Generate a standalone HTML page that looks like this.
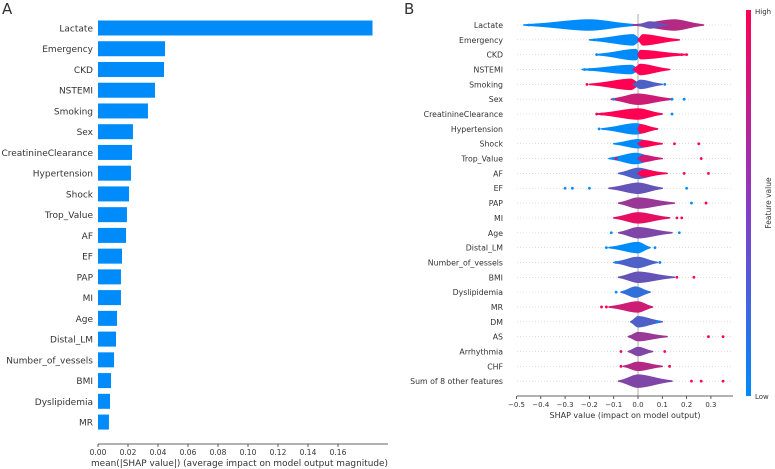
<!DOCTYPE html>
<html><head><meta charset="utf-8">
<style>
body{margin:0;background:#fff;font-family:"Liberation Sans","DejaVu Sans",sans-serif;}
svg{display:block}
text{font-family:"DejaVu Sans","Liberation Sans",sans-serif;fill:#333}
</style></head>
<body>
<svg id="c" width="775" height="469" viewBox="0 0 775 469">
<defs>
<linearGradient id="cb" x1="0" y1="1" x2="0" y2="0">
<stop offset="0" stop-color="#008bfb"/><stop offset="0.5" stop-color="#8a3ac4"/><stop offset="1" stop-color="#ff0052"/>
</linearGradient>
</defs>
<text x="2" y="14" font-size="15" fill="#000">A</text>
<text x="404" y="14" font-size="15" fill="#000">B</text>
<g id="left"></g>
<g id="right"></g>
<rect x="746" y="10" width="5" height="386" fill="url(#cb)"/>
<text x="755" y="14" font-size="7">High</text>
<text x="755" y="399" font-size="7">Low</text>
<text transform="translate(771,203) rotate(-90)" text-anchor="middle" font-size="7.5">Feature value</text>
</svg>
<script>
const NS="http://www.w3.org/2000/svg";
function mk(p,t,a){const e=document.createElementNS(NS,t);for(const k in a)e.setAttribute(k,a[k]);p.appendChild(e);return e;}
// ---- Panel A data
const barLabels=["Lactate","Emergency","CKD","NSTEMI","Smoking","Sex","CreatinineClearance","Hypertension","Shock","Trop_Value","AF","EF","PAP","MI","Age","Distal_LM","Number_of_vessels","BMI","Dyslipidemia","MR"];
const barValues=[0.183,0.0447,0.044,0.038,0.0333,0.0233,0.0227,0.022,0.0207,0.0193,0.0187,0.016,0.0153,0.0153,0.0127,0.012,0.0107,0.0087,0.008,0.0073];
const barTicks=[0,0.02,0.04,0.06,0.08,0.10,0.12,0.14,0.16];
const L=document.getElementById('left');
const ax=v=>98+v*1500, ay=i=>28+i*20.74;
barLabels.forEach((n,i)=>{
 const r=mk(L,'rect',{x:ax(0),y:ay(i)-7.5,width:ax(barValues[i])-ax(0),height:15,fill:'#008bfb'});
 
 
 const t=mk(L,'text',{x:93,y:ay(i)+3.5,'text-anchor':'end','font-size':9});
 t.textContent=n;
 
 
});
const la=mk(L,'line',{x1:98,y1:444,x2:388,y2:444,stroke:'#333','stroke-width':0.8});


barTicks.forEach(v=>{
 mk(L,'line',{x1:ax(v),y1:444,x2:ax(v),y2:447,stroke:'#333','stroke-width':0.8});
 const t=mk(L,'text',{x:ax(v),y:455,'text-anchor':'middle','font-size':7.5});
 t.textContent=v.toFixed(2);
 
 
});
const xt=mk(L,'text',{x:91,y:466,'font-size':9,textLength:297,lengthAdjust:'spacingAndGlyphs'});
xt.textContent="mean(|SHAP value|) (average impact on model output magnitude)";



// ---- Panel B data
const rowLabels=["Lactate","Emergency","CKD","NSTEMI","Smoking","Sex","CreatinineClearance","Hypertension","Shock","Trop_Value","AF","EF","PAP","MI","Age","Distal_LM","Number_of_vessels","BMI","Dyslipidemia","MR","DM","AS","Arrhythmia","CHF","Sum of 8 other features"];
// segments: [x0,x1,peak,halfHeight,color 0=blue 1=red]
const rowSegs=[
 [[-0.47,0,-0.2,5,0],[-0.02,0.27,0.15,5,0.7],[0,0.12,0.05,3,0.4]],
 [[-0.2,0.01,-0.02,5,0],[0,0.17,0.02,5,1]],
 [[-0.17,0.01,-0.01,5,0],[0,0.2,0.01,4,1]],
 [[-0.23,0.01,-0.03,4,0],[-0.02,0.13,0.01,5,1]],
 [[-0.2,0.01,-0.03,5,1],[-0.02,0.1,0.01,4,0.3]],
 [[-0.11,0.14,0,5,0.8]],
 [[-0.17,0.1,0,5,1]],
 [[-0.15,0.08,-0.01,5,0],[0,0.08,0.01,4,1]],
 [[-0.1,0.08,0,4,0],[0,0.1,0.02,3,1]],
 [[-0.12,0.08,-0.01,5,0],[0,0.1,0.02,3,0.8]],
 [[-0.08,0.1,0,5,0.3],[0,0.12,0.02,3,1]],
 [[-0.12,0.1,0,5,0.4]],
 [[-0.08,0.15,0,5,0.6]],
 [[-0.1,0.13,0,5,0.9]],
 [[-0.08,0.14,0,5,0.5]],
 [[-0.12,0.05,0,5,0]],
 [[-0.1,0.08,0,5,0.3]],
 [[-0.08,0.15,0,5,0.4]],
 [[-0.07,0.05,-0.01,5,0.2]],
 [[-0.12,0.06,0,5,0.8]],
 [[-0.03,0.1,0,5,0.3]],
 [[-0.04,0.12,0,4,0.6]],
 [[-0.04,0.06,0,4,0.5]],
 [[-0.06,0.1,0,4,0.7]],
 [[-0.08,0.14,0,6,0.5]]
];
// outliers: [value,color]
const rowOutliers=[
 [[-0.45,0],[-0.42,0]],[[-0.18,0],[-0.16,0]],[[-0.17,0],[0.18,1],[0.2,1]],[[-0.22,0],[-0.2,0]],[[-0.21,1],[0.11,0]],
 [[-0.1,0],[0.14,0],[0.19,0]],[[-0.17,1],[-0.15,1],[0.14,0]],[[-0.16,0]],[[0.25,1],[0.15,1]],[[0.26,1],[-0.09,1]],
 [[0.29,1],[0.19,1]],[[-0.3,0],[-0.27,0],[-0.2,0],[0.2,0]],[[0.28,1],[0.22,0]],[[0.16,1],[0.18,1]],[[-0.11,0],[0.17,0]],
 [[-0.13,0],[0.07,0]],[[-0.09,0],[0.09,0]],[[0.16,1],[0.23,1]],[[-0.09,0]],[[-0.15,1],[-0.13,1]],
 [[0.08,0]],[[0.29,1],[0.35,1]],[[-0.07,1],[0.11,1]],[[-0.07,1],[0.13,1]],[[0.22,1],[0.26,1],[0.35,1]]
];
const xTicksB=[-0.5,-0.4,-0.3,-0.2,-0.1,0.0,0.1,0.2,0.3];
const R=document.getElementById('right');
const bx=v=>638+v*243, by=i=>25+i*14.84;
function col(c){const a=[0,139,251],b=[255,0,82];return 'rgb('+a.map((v,k)=>Math.round(v+(b[k]-v)*c)).join(',')+')';}
rowLabels.forEach((n,i)=>{
 const y=by(i);
 mk(R,'line',{x1:517,y1:y,x2:733,y2:y,stroke:'#ccc','stroke-width':0.6,'stroke-dasharray':'1 2'});
 const t=mk(R,'text',{x:503,y:y+3,'text-anchor':'end','font-size':7.8});
 t.textContent=n;
 
 
});
mk(R,'line',{x1:638,y1:14,x2:638,y2:396,stroke:'#999','stroke-width':0.8});
rowLabels.forEach((n,i)=>{
 const y=by(i);
 const g=mk(R,'g',{});
 
 
 rowSegs[i].forEach(s=>{
  const x0=bx(s[0]),x1=bx(s[1]),xp=bx(s[2]),h=s[3];
  const d=`M${x0},${y} C${(x0+xp)/2},${y-0.3*h} ${xp-(xp-x0)*0.3},${y-h} ${xp},${y-h} C${xp+(x1-xp)*0.3},${y-h} ${(xp+x1)/2},${y-0.3*h} ${x1},${y} C${(xp+x1)/2},${y+0.3*h} ${xp+(x1-xp)*0.3},${y+h} ${xp},${y+h} C${xp-(xp-x0)*0.3},${y+h} ${(x0+xp)/2},${y+0.3*h} ${x0},${y}Z`;
  mk(g,'path',{d:d,fill:col(s[4]),stroke:col(s[4]),'stroke-width':1.5,'stroke-linejoin':'round'});
 });
 rowOutliers[i].forEach(o=>{mk(g,'circle',{cx:bx(o[0]),cy:y,r:1.4,fill:col(o[1])});});
});
mk(R,'line',{x1:517,y1:396,x2:733,y2:396,stroke:'#333','stroke-width':0.8});
xTicksB.forEach(v=>{
 mk(R,'line',{x1:bx(v),y1:396,x2:bx(v),y2:399,stroke:'#333','stroke-width':0.8});
 const t=mk(R,'text',{x:bx(v),y:407,'text-anchor':'middle','font-size':7});
 t.textContent=(v<0?'\u2212':'')+Math.abs(v).toFixed(1);
 
 
});
const xb=mk(R,'text',{x:625,y:418,'text-anchor':'middle','font-size':8});
xb.textContent="SHAP value (impact on model output)";


</script>
</body></html>
